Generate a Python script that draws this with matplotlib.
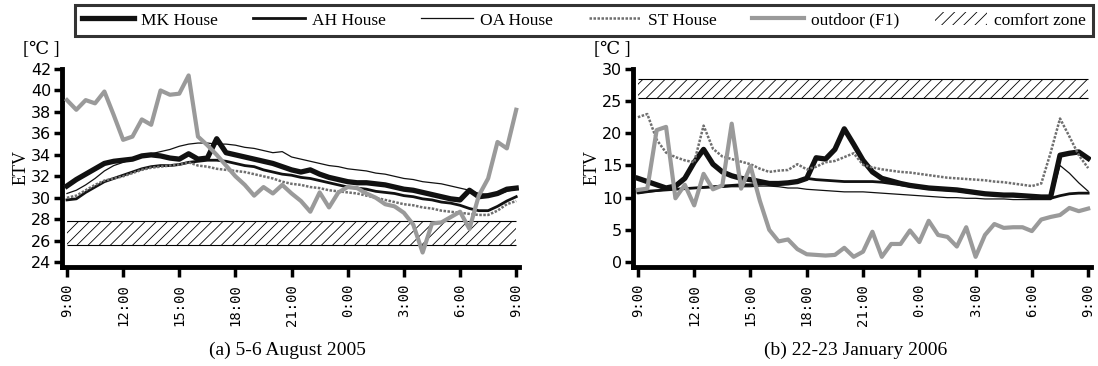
import numpy as np
import matplotlib
matplotlib.use("Agg")
import matplotlib.pyplot as plt
from matplotlib.lines import Line2D
from matplotlib.patches import Patch

plt.rcParams['hatch.linewidth'] = 0.6
SERIF = ['Liberation Serif', 'DejaVu Serif', 'DejaVu Sans']

# half-hourly readings, 9:00 -> 9:00 next day
hours = np.arange(0, 24.5, 0.5)
tick_hours = [0, 3, 6, 9, 12, 15, 18, 21, 24]
tick_labels = ['9:00', '12:00', '15:00', '18:00', '21:00', '0:00', '3:00', '6:00', '9:00']

# (a) 5-6 August 2005
mk_aug = [31.1, 31.7, 32.2, 32.7, 33.2, 33.4, 33.5, 33.6, 33.9, 34.0, 33.9, 33.7, 33.6, 34.1,
          33.6, 33.7, 35.5, 34.2, 34.0, 33.8, 33.6, 33.4, 33.2, 32.9, 32.6, 32.4, 32.6, 32.2,
          31.9, 31.7, 31.5, 31.4, 31.4, 31.3, 31.2, 31.0, 30.8, 30.7, 30.5, 30.3, 30.1, 29.9,
          29.8, 30.7, 30.1, 30.2, 30.4, 30.8, 30.9]
ah_aug = [29.8, 29.9, 30.5, 31.0, 31.5, 31.8, 32.1, 32.4, 32.7, 32.9, 33.0, 33.0, 33.1, 33.3,
          33.4, 33.5, 33.5, 33.4, 33.2, 33.0, 32.9, 32.6, 32.4, 32.2, 32.1, 31.9, 31.8, 31.6,
          31.4, 31.2, 31.0, 30.9, 30.8, 30.6, 30.5, 30.4, 30.2, 30.1, 29.9, 29.8, 29.6, 29.5,
          29.3, 29.0, 28.8, 28.8, 29.2, 29.7, 30.1]
oa_aug = [30.4, 30.7, 31.2, 31.8, 32.5, 33.0, 33.3, 33.6, 33.9, 34.1, 34.3, 34.5, 34.8, 35.0,
          35.1, 35.1, 35.0, 35.0, 34.9, 34.7, 34.6, 34.4, 34.2, 34.3, 33.8, 33.6, 33.4, 33.2,
          33.0, 32.9, 32.7, 32.6, 32.5, 32.3, 32.2, 32.0, 31.8, 31.7, 31.5, 31.4, 31.3, 31.1,
          30.9, 30.7, 30.4, 30.3, 30.3, 30.6, 30.8]
st_aug = [30.0, 30.2, 30.7, 31.2, 31.6, 31.8, 32.0, 32.3, 32.6, 32.8, 32.9, 33.0, 33.1, 33.3,
          33.0, 32.9, 32.7, 32.6, 32.5, 32.4, 32.2, 32.0, 31.8, 31.5, 31.3, 31.2, 31.0, 30.9,
          30.7, 30.6, 30.5, 30.4, 30.2, 30.0, 29.8, 29.6, 29.4, 29.3, 29.1, 29.0, 28.8, 28.7,
          28.6, 28.5, 28.4, 28.4, 28.8, 29.4, 29.7]
out_aug = [39.1, 38.2, 39.1, 38.8, 39.9, 37.7, 35.4, 35.7, 37.3, 36.8, 40.0, 39.6, 39.7, 41.4,
           35.7, 34.9, 34.0, 33.0, 32.0, 31.2, 30.2, 31.0, 30.4, 31.2, 30.4, 29.7, 28.7, 30.5,
           29.1, 30.5, 31.0, 30.9, 30.4, 30.0, 29.4, 29.2, 28.6, 27.5, 24.9, 27.6, 27.7, 28.2,
           28.7, 27.1, 30.2, 31.8, 35.2, 34.6, 38.2]
comfort_aug = (25.6, 27.8)

# (b) 22-23 January 2006
mk_jan = [13.0, 12.5, 12.0, 11.5, 11.8, 13.0, 15.5, 17.5, 15.2, 14.0, 13.4, 13.0, 12.8, 12.5,
          12.2, 12.2, 12.3, 12.5, 13.0, 16.2, 16.0, 17.5, 20.7, 18.3, 15.8, 14.0, 13.0, 12.6,
          12.2, 11.9, 11.7, 11.5, 11.4, 11.3, 11.2, 11.0, 10.8, 10.6, 10.5, 10.4, 10.4, 10.3,
          10.2, 10.1, 10.1, 16.6, 16.9, 17.1, 16.1]
ah_jan = [10.8, 11.0, 11.1, 11.2, 11.3, 11.4, 11.5, 11.6, 11.7, 11.8, 11.9, 12.0, 12.0, 12.1,
          12.2, 12.2, 12.3, 12.6, 13.0, 12.8, 12.7, 12.6, 12.5, 12.5, 12.5, 12.5, 12.4, 12.2,
          12.0, 11.8, 11.6, 11.4, 11.3, 11.2, 11.1, 10.9, 10.8, 10.6, 10.5, 10.4, 10.3, 10.2,
          10.1, 10.0, 9.9, 10.3, 10.6, 10.7, 10.7]
oa_jan = [10.6, 10.8, 11.0, 11.2, 11.3, 11.4, 11.5, 11.5, 11.6, 11.6, 11.7, 11.7, 11.7, 11.8,
          11.8, 11.7, 11.5, 11.5, 11.3, 11.2, 11.1, 11.0, 10.9, 10.9, 10.9, 10.8, 10.7, 10.6,
          10.5, 10.4, 10.3, 10.2, 10.1, 10.0, 10.0, 9.9, 9.9, 9.8, 9.8, 9.8, 9.7, 9.7,
          9.7, 9.7, 9.7, 15.0, 13.8, 12.3, 11.0]
st_jan = [22.5, 23.0, 19.0, 17.0, 16.3, 15.8, 15.5, 21.2, 17.6, 16.4, 16.0, 15.6, 15.2, 14.5,
          14.0, 14.2, 14.3, 15.2, 14.4, 14.8, 15.5, 15.7, 16.3, 16.9, 15.1, 14.7, 14.4, 14.2,
          14.0, 13.9, 13.7, 13.5, 13.3, 13.1, 13.0, 12.9, 12.8, 12.7, 12.5, 12.4, 12.2, 12.0,
          11.8, 12.2, 17.0, 22.3, 19.5, 16.6, 14.6]
out_jan = [11.2, 11.4, 20.5, 21.0, 9.9, 12.0, 8.8, 13.7, 11.3, 11.9, 21.5, 11.4, 14.9, 9.5,
           5.0, 3.2, 3.5, 2.0, 1.2, 1.1, 1.0, 1.1, 2.2, 0.8, 1.6, 4.7, 0.8, 2.8, 2.8, 4.9,
           3.1, 6.4, 4.2, 3.9, 2.4, 5.4, 0.8, 4.2, 5.9, 5.3, 5.4, 5.4, 4.8, 6.6, 7.0, 7.3,
           8.4, 7.9, 8.3]
comfort_jan = (25.5, 28.4)

styles = {
    'MK House': dict(color='#111111', lw=3.8),
    'AH House': dict(color='#111111', lw=2.0),
    'OA House': dict(color='#111111', lw=0.9),
    'ST House': dict(color='#6f6f6f', lw=1.8, ls=(0, (1, 0.6))),
    'outdoor (F1)': dict(color='#9a9a9a', lw=3.0),
}


def panel(ax, series, comfort, ylim, yticks, title, title_x):
    ax.fill_between([0, 24], comfort[0], comfort[1], facecolor='white',
                    edgecolor='black', hatch='///', linewidth=0, zorder=1)
    ax.hlines(comfort, 0, 24, colors='black', lw=0.8, zorder=1)
    for name, vals in series.items():
        ax.plot(hours, vals, solid_joinstyle='round', zorder=3, **styles[name])
    ax.set_xlim(-0.28, 24.15)
    ax.set_ylim(*ylim)
    ax.set_yticks(yticks)
    ax.set_xticks(tick_hours)
    ax.set_xticklabels(tick_labels, rotation=90, family='DejaVu Sans Mono', fontsize=10)
    for lab in ax.get_yticklabels():
        lab.set_family('DejaVu Sans')
        lab.set_fontsize(11.5)
    for s in ['top', 'right']:
        ax.spines[s].set_visible(False)
    for s in ['left', 'bottom']:
        ax.spines[s].set_linewidth(3.5)
    ax.tick_params(axis='y', length=6, width=2.5, pad=1.5)
    ax.tick_params(axis='x', length=7, width=2.5, pad=5)
    ax.set_ylabel('ETV', family=SERIF, fontsize=13, labelpad=1)
    ax.text(-0.045, 1.1, '[\u2103 ]', transform=ax.transAxes, family=SERIF,
            fontsize=13, ha='center', va='center')
    fig.text(title_x, 0.03, title, family=SERIF, fontsize=14, ha='center')


fig = plt.figure(figsize=(10.98, 3.66), dpi=100)
ax1 = fig.add_axes([0.0562, 0.2705, 0.4165, 0.541])
ax2 = fig.add_axes([0.5762, 0.2705, 0.4174, 0.541])

panel(ax1, {'MK House': mk_aug, 'AH House': ah_aug, 'OA House': oa_aug,
            'ST House': st_aug, 'outdoor (F1)': out_aug},
      comfort_aug, (23.55, 42), range(24, 43, 2), '(a) 5-6 August 2005', 0.262)
panel(ax2, {'MK House': mk_jan, 'AH House': ah_jan, 'OA House': oa_jan,
            'ST House': st_jan, 'outdoor (F1)': out_jan},
      comfort_jan, (-0.78, 30), range(0, 31, 5), '(b) 22-23 January 2006', 0.779)

handles = [Line2D([], [], **styles[n]) for n in styles]
handles.append(Patch(facecolor='white', edgecolor='black', hatch='///', lw=0))
labels = list(styles) + ['comfort zone']
leg = fig.legend(handles, labels, loc='center', ncol=6, mode='expand',
                 bbox_to_anchor=(0.068, 0.899, 0.927, 0.09), frameon=True,
                 fancybox=False, prop={'family': SERIF, 'size': 12.5},
                 handlelength=3.0, handletextpad=0.4, borderaxespad=0)
leg.get_frame().set_edgecolor('black')
leg.get_frame().set_linewidth(2.2)

fig.savefig('out.png', dpi=100)
